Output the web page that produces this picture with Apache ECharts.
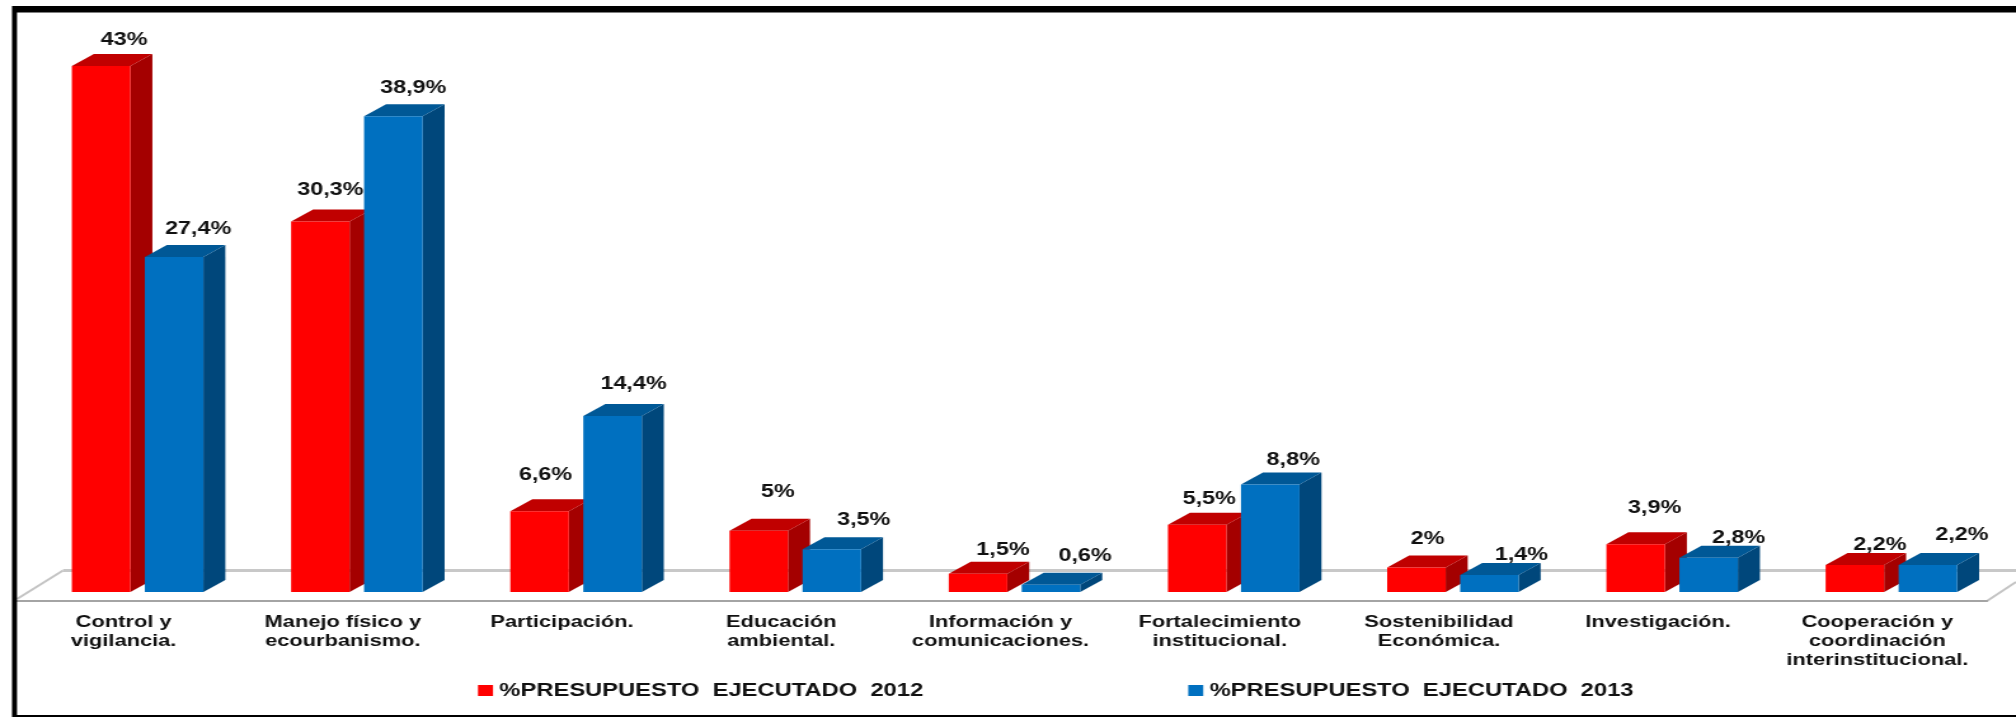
<!DOCTYPE html>
<html>
<head>
<meta charset="utf-8">
<style>
html,body{margin:0;padding:0;background:#fff;overflow:hidden}
/* The source picture is a horizontally stretched, slightly soft chart, so the chart is treated the same way as a whole. */
#chart{width:1587px;height:717px;transform:scaleX(1.2703);transform-origin:0 0;filter:blur(0.45px)}
</style>
<script src="https://cdn.jsdelivr.net/npm/echarts@6/dist/echarts.min.js"></script>
</head>
<body>
<div id="chart"></div>
<script>
const categories = [
  'Control y\nvigilancia.',
  'Manejo físico y\necourbanismo.',
  'Participación.',
  'Educación\nambiental.',
  'Información y\ncomunicaciones.',
  'Fortalecimiento\ninstitucional.',
  'Sostenibilidad\nEconómica.',
  'Investigación.',
  'Cooperación y\ncoordinación\ninterinstitucional.'
];
const seriesName2012 = '%PRESUPUESTO  EJECUTADO  2012';
const seriesName2013 = '%PRESUPUESTO  EJECUTADO  2013';
const values2012 = [43, 30.3, 6.6, 5, 1.5, 5.5, 2, 3.9, 2.2];
const values2013 = [27.4, 38.9, 14.4, 3.5, 0.6, 8.8, 1.4, 2.8, 2.2];
// hand-placed label nudges (target px) relative to each bar's front-top centre
const labelNudge2012 = [[23,26],[10,32],[6,36],[19,39],[25,24],[12,26],[11,29],[19,36],[25,20]];
const labelNudge2013 = [[24,28],[20,28],[21,32],[32,29],[34,29],[23,24],[32,20],[30,20],[34,30]];

const S = 2016 / 1587;
const X = v => v / S;           // target-image x distance -> chart x distance
const BAR_W = 58.5, DEPTH_X = 22, DEPTH_Y = 12, SHIFT_X = 14, SHIFT_Y = 9;
const OFFSET = { r: -65.75, b: 7.25 };

function bar3d(offsetKey, colors, nudges) {
  return function (params, api) {
    const i = api.value(0), v = api.value(1);
    const base = api.coord([i, 0]);
    const top = api.coord([i, v]);
    const x0 = base[0] + X(SHIFT_X + OFFSET[offsetKey]);
    const x1 = x0 + X(BAR_W);
    const dx = X(DEPTH_X), dy = DEPTH_Y;
    const yb = base[1] - SHIFT_Y, yt = top[1] - SHIFT_Y;
    const n = nudges[i];
    return {
      type: 'group',
      children: [
        { type: 'polygon', shape: { points: [[x1, yb], [x1 + dx, yb - dy], [x1 + dx, yt - dy], [x1, yt]] }, style: { fill: colors.side } },
        { type: 'polygon', shape: { points: [[x0, yt], [x0 + dx, yt - dy], [x1 + dx, yt - dy], [x1, yt]] }, style: { fill: colors.top } },
        { type: 'rect', shape: { x: x0, y: yt, width: x1 - x0, height: yb - yt }, style: { fill: colors.front } },
        { type: 'text', z2: 100, style: {
            text: String(v).replace('.', ',') + '%',
            x: (x0 + x1) / 2 + X(n[0]), y: yt - n[1],
            align: 'center', verticalAlign: 'middle',
            fill: '#111', font: 'bold 18.4px "Liberation Sans"'
        } }
      ]
    };
  };
}

const chart = echarts.init(document.getElementById('chart'), null, { renderer: 'canvas' });
chart.setOption({
  animation: false,
  backgroundColor: '#fff',
  legend: {
    left: X(478), top: 681, padding: 0, itemWidth: X(15), itemHeight: 11, itemGap: X(265), icon: 'rect',
    textStyle: { fontFamily: 'Liberation Sans', fontWeight: 'bold', fontSize: 18.7, color: '#111' },
    data: [
      { name: seriesName2012, itemStyle: { color: '#ff0000' } },
      { name: seriesName2013, itemStyle: { color: '#0070c0' } }
    ]
  },
  grid: { left: X(14), width: X(1973), top: 601 - 45 * 12.23, height: 45 * 12.23 },
  xAxis: {
    type: 'category', data: categories, boundaryGap: true,
    axisLine: { lineStyle: { color: '#a4a4a4', width: 2 } }, axisTick: { show: false }, z: 1,
    axisLabel: { interval: 0, margin: 12, fontFamily: 'Liberation Sans', fontWeight: 'bold', fontSize: 17.2, lineHeight: 19, color: '#111' }
  },
  yAxis: { type: 'value', min: 0, max: 45, interval: 5, show: false },
  graphic: [
    { type: 'polyline', z: 0, shape: { points: [[X(63), 570.5], [X(2016), 570.5]] }, style: { stroke: '#c8c8c8', lineWidth: 3, fill: null } },
    { type: 'polyline', z: 0, shape: { points: [[X(17), 599], [X(63), 570.5]] }, style: { stroke: '#c4c4c4', lineWidth: 2, fill: null } },
    { type: 'polyline', z: 0, shape: { points: [[X(1987), 601], [X(2016), 582]] }, style: { stroke: '#c4c4c4', lineWidth: 2, fill: null } },
    { type: 'polygon', z: 50, shape: { points: [[X(12), 6], [X(2016), 6], [X(2016), 12.5], [X(17), 12.5], [X(17), 715], [X(2016), 715], [X(2016), 717], [X(12), 717]] }, style: { fill: '#000' } }
  ],
  series: [
    { name: seriesName2012, type: 'custom', coordinateSystem: 'cartesian2d', encode: { x: 0, y: 1 }, clip: false,
      data: values2012.map((v, i) => [i, v]),
      renderItem: bar3d('r', { front: '#ff0000', side: '#a40000', top: '#c00000' }, labelNudge2012) },
    { name: seriesName2013, type: 'custom', coordinateSystem: 'cartesian2d', encode: { x: 0, y: 1 }, clip: false,
      data: values2013.map((v, i) => [i, v]),
      renderItem: bar3d('b', { front: '#0070c0', side: '#00477b', top: '#005896' }, labelNudge2013) }
  ]
});
</script>
</body>
</html>
